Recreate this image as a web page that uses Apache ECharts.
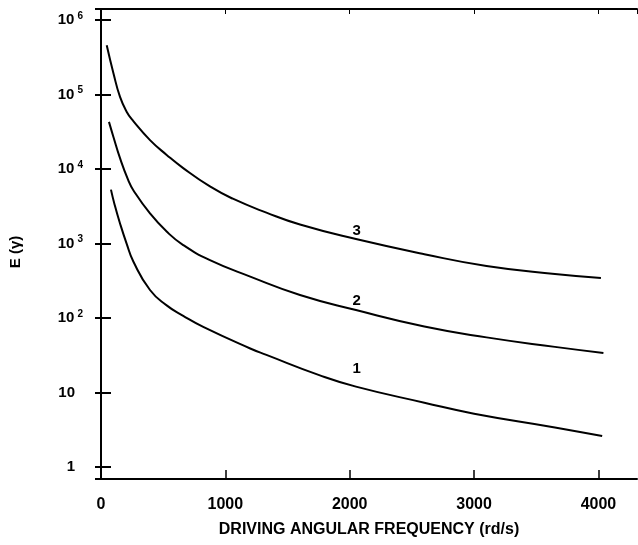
<!DOCTYPE html>
<html>
<head>
<meta charset="utf-8">
<script src="https://cdn.jsdelivr.net/npm/echarts@6/dist/echarts.min.js"></script>
</head>
<body style="margin:0">
<div id="main" style="width:638px;height:545px;"></div>
<script>
// curves: [frequency rd/s, E]
var curve1 = [[80,5300],[110,3300],[153,1860],[206,1000],[260,575],[394,238],[528,148],[661,107],[822,76],[1200,39],[1330,32],[1760,17],[2050,12],[2600,7.3],[3000,5.2],[3650,3.4],[4030,2.6]];
var curve2 = [[64,43000],[100,27000],[153,14000],[219,7100],[260,5200],[394,2540],[528,1450],[661,955],[876,600],[1200,360],[1600,204],[2050,128],[2600,77],[3100,55],[3650,41],[4040,34]];
var curve3 = [[46,460000],[100,194000],[153,93000],[206,59000],[260,44000],[394,24500],[528,15500],[661,10300],[876,5840],[1060,4000],[1330,2600],[1600,1800],[2050,1150],[2600,720],[3100,500],[3650,390],[4020,345]];
var curveNames = ['1', '2', '3'];
var labelPos = [[2056, 20.8], [2056, 171], [2056, 1500]];
var yExp = ['', '', '2', '3', '4', '5', '6'];

var font = 'Liberation Sans';
var chart = echarts.init(document.getElementById('main'));

function yLabel(v) {
    var l = Math.log10(v);
    var n = Math.round(l);
    if (Math.abs(l - n) > 0.01 || n < 0 || n > 6) return '';
    if (n === 0) return '{p|1}';
    if (n === 1) return '{p|10}';
    return '{b|10}{s|' + yExp[n] + '}';
}

var richY = {
    b: {fontFamily: font, fontWeight: 'bold', fontSize: 15, lineHeight: 18, color: '#000'},
    p: {fontFamily: font, fontWeight: 'bold', fontSize: 15, lineHeight: 18, color: '#000', padding: [0, 8, 0, 0]},
    s: {fontFamily: font, fontWeight: 'bold', fontSize: 10, lineHeight: 18, verticalAlign: 'top', color: '#000', padding: [0, 0, 0, 3]}
};

var lineStyle = {color: '#000', width: 2};

function makeSeries(data, i) {
    return {
        type: 'line',
        data: data,
        smooth: 0.5,
        symbol: 'none',
        lineStyle: {color: '#000', width: 2},
        markPoint: {
            symbol: 'circle',
            symbolSize: 0,
            data: [{coord: labelPos[i]}],
            label: {show: true, formatter: curveNames[i], color: '#000', fontFamily: font, fontWeight: 'bold', fontSize: 15}
        }
    };
}

var option = {
    animation: false,
    backgroundColor: '#fff',
    grid: {left: 101, right: 1, top: 9, bottom: 66},
    xAxis: [{
        type: 'value', min: 0, max: 4310, interval: 1000,
        name: 'DRIVING ANGULAR FREQUENCY (rd/s)', nameLocation: 'middle', nameGap: 43,
        nameTextStyle: {fontFamily: font, fontWeight: 'bold', fontSize: 16, color: '#000'},
        axisLine: {lineStyle: lineStyle},
        axisTick: {inside: true, length: 9, lineStyle: {color: '#000', width: 1.5}},
        axisLabel: {fontFamily: font, fontWeight: 'bold', fontSize: 16, color: '#000', margin: 18, showMaxLabel: false,
            formatter: function (v) { return String(v); }},
        splitLine: {show: false}
    }, {
        type: 'value', position: 'top', min: 0, max: 4310, interval: 1000,
        axisLine: {lineStyle: lineStyle},
        axisTick: {inside: true, length: 5, lineStyle: {color: '#000', width: 1}},
        axisLabel: {show: false},
        splitLine: {show: false}
    }],
    yAxis: [{
        type: 'log', logBase: 10, min: 0.69, max: 1410000,
        name: 'E (\u03b3)', nameLocation: 'middle', nameGap: 78,
        nameTextStyle: {fontFamily: font, fontWeight: 'bold', fontSize: 15, color: '#000', padding: [0, 16, 0, 0]},
        axisLine: {lineStyle: lineStyle},
        axisTick: {inside: true, length: 10, lineStyle: {color: '#000', width: 2}},
        axisLabel: {formatter: yLabel, rich: richY, margin: 18, showMinLabel: false, showMaxLabel: false},
        splitLine: {show: false}
    }, {
        type: 'log', logBase: 10, min: 0.69, max: 1410000, position: 'right',
        axisLine: {lineStyle: lineStyle},
        axisTick: {inside: true, length: 6, lineStyle: {color: '#000', width: 2}},
        axisLabel: {show: false},
        splitLine: {show: false}
    }],
    series: [curve1, curve2, curve3].map(makeSeries)
};

chart.setOption(option);
</script>
</body>
</html>
